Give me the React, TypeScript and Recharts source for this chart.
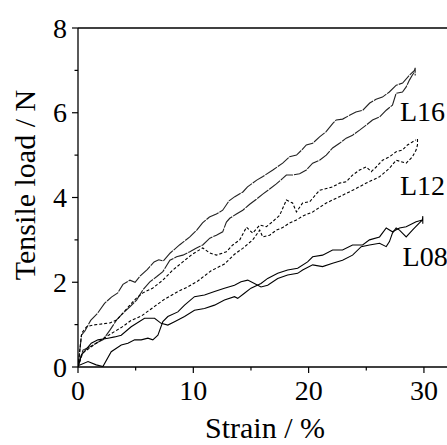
import { LineChart, Line, XAxis, YAxis, ReferenceLine, ReferenceDot } from "recharts";

// strain (%) / tensile load (N) pairs
const L16_UPPER: [number, number][] = [
  [0, 0], [0.3, 0.75], [0.6, 0.85], [1.1, 1.1], [1.7, 1.27], [2.3, 1.5], [2.9, 1.65], [3.45, 1.75],
  [3.9, 1.95], [4.5, 2.05], [4.95, 2.0], [5.4, 2.15], [6.0, 2.3], [6.6, 2.48], [7.0, 2.53], [7.4, 2.5],
  [8.0, 2.69], [8.8, 2.88], [9.7, 3.07], [10.3, 3.23], [10.8, 3.4], [11.4, 3.54], [12.0, 3.61],
  [12.55, 3.7], [13.1, 3.92], [13.6, 4.02], [14.3, 4.13], [14.7, 4.25], [15.5, 4.41], [16.0, 4.49],
  [16.9, 4.65], [17.75, 4.81], [18.35, 4.96], [18.95, 5.0], [19.4, 5.12], [19.8, 5.24], [20.35, 5.28],
  [20.95, 5.43], [21.5, 5.55], [22.1, 5.75], [22.4, 5.83], [22.95, 5.85], [23.55, 5.94], [24.1, 6.02],
  [24.7, 6.06], [25.3, 6.23], [25.85, 6.32], [26.4, 6.37], [27.0, 6.49], [27.6, 6.65], [28.15, 6.7],
  [28.75, 6.89], [29.18, 7.0], [29.24, 7.06], [29.24, 6.88],
];
const L16_LOWER: [number, number][] = [
  [0, 0], [0.43, 0.4], [1.04, 0.48], [1.62, 0.57], [2.16, 0.64], [2.77, 0.87], [3.35, 1.11], [3.9, 1.27],
  [4.5, 1.42], [5.08, 1.58], [5.63, 1.82], [6.23, 2.01], [6.81, 2.13], [7.36, 2.25], [7.97, 2.52],
  [8.55, 2.6], [9.09, 2.64], [9.7, 2.72], [10.28, 2.81], [10.82, 2.88], [11.43, 3.04], [12.0, 3.11],
  [12.55, 3.19], [12.87, 3.42], [13.16, 3.51], [13.74, 3.61], [14.29, 3.7], [14.89, 3.84], [15.47, 3.96],
  [16.02, 4.08], [16.62, 4.2], [17.2, 4.32], [17.75, 4.45], [18.07, 4.53], [18.61, 4.53], [19.22, 4.56],
  [19.8, 4.65], [20.35, 4.81], [20.95, 4.88], [21.53, 5.0], [22.08, 5.17], [22.68, 5.28], [23.26, 5.4],
  [23.81, 5.47], [24.42, 5.59], [25.0, 5.71], [25.54, 5.83], [26.15, 5.9], [26.73, 6.06], [27.27, 6.18],
  [27.59, 6.46], [28.14, 6.49], [28.46, 6.61], [28.74, 6.77], [29.0, 6.89], [29.18, 6.96],
];
const L12_UPPER: [number, number][] = [
  [0, 0], [0.32, 0.8], [0.75, 0.95], [1.3, 0.99], [1.9, 1.01], [2.77, 1.04], [3.35, 1.11], [3.9, 1.27],
  [4.5, 1.46], [5.08, 1.63], [5.63, 1.75], [6.47, 1.86], [7.36, 2.05], [8.23, 2.29], [9.09, 2.48],
  [9.96, 2.67], [10.82, 2.81], [11.43, 2.69], [12.0, 2.64], [12.87, 2.72], [13.42, 2.88], [14.03, 3.0],
  [14.61, 3.3], [15.15, 3.16], [15.76, 3.35], [16.34, 3.31], [16.88, 3.43], [17.49, 3.58], [18.07, 3.94],
  [18.61, 3.87], [18.94, 3.66], [19.48, 3.87], [20.09, 3.9], [20.95, 4.17], [22.08, 4.25], [22.68, 4.34],
  [23.26, 4.37], [23.81, 4.53], [24.42, 4.65], [25.0, 4.72], [25.43, 4.61], [25.86, 4.72], [26.41, 4.88],
  [27.01, 4.96], [27.59, 5.08], [28.14, 5.12], [28.57, 5.24], [29.0, 5.31], [29.3, 5.36],
];
const L12_LOWER: [number, number][] = [
  [0, 0], [0.41, 0.33], [1.27, 0.5], [2.14, 0.66], [2.88, 0.79], [3.75, 0.93], [4.61, 1.1], [5.48, 1.2],
  [6.64, 1.43], [7.5, 1.6], [8.66, 1.78], [9.52, 1.89], [10.39, 2.03], [11.54, 2.27], [12.7, 2.43],
  [13.57, 2.66], [14.29, 2.8], [15.15, 3.0], [15.76, 3.23], [16.02, 3.07], [16.62, 3.11], [17.2, 3.23],
  [17.75, 3.29], [18.35, 3.4], [18.94, 3.47], [19.48, 3.56], [20.35, 3.66], [21.53, 3.87], [22.68, 4.02],
  [23.81, 4.17], [25.0, 4.34], [26.15, 4.49], [27.01, 4.69], [27.59, 4.88], [28.46, 4.81], [29.0, 4.96],
  [29.32, 5.12], [29.44, 5.24], [29.44, 5.38],
];
const L08_A: [number, number][] = [
  [0, 0], [0.29, 0.28], [1.15, 0.56], [1.73, 0.64], [2.6, 0.68], [3.18, 0.71], [3.75, 0.75], [4.61, 0.95],
  [5.77, 1.15], [6.64, 1.15], [7.21, 1.03], [7.79, 0.99], [8.37, 1.07], [9.24, 1.19], [10.1, 1.34],
  [10.97, 1.38], [11.84, 1.46], [12.7, 1.58], [13.57, 1.66], [13.85, 1.62], [14.43, 1.74], [15.0, 1.86],
  [15.87, 1.97], [16.45, 2.09], [17.32, 2.21], [18.18, 2.29], [19.05, 2.33], [19.91, 2.48], [20.35, 2.6],
  [21.21, 2.64], [22.08, 2.76], [22.94, 2.76], [23.81, 2.88], [24.68, 2.88], [25.28, 3.0], [26.15, 3.07],
  [26.73, 3.28], [27.27, 3.19], [27.88, 3.28], [28.46, 3.31], [29.32, 3.43], [29.87, 3.47],
];
const L08_B: [number, number][] = [
  [0, 0.03], [0.87, 0.13], [1.58, 0.05], [2.16, 0.01], [2.88, 0.36], [3.75, 0.52], [4.33, 0.56],
  [4.91, 0.64], [5.48, 0.64], [6.06, 0.68], [6.49, 0.64], [6.93, 0.75], [7.36, 1.07], [7.79, 1.19],
  [8.66, 1.3], [9.24, 1.46], [10.1, 1.66], [10.97, 1.7], [11.84, 1.78], [12.7, 1.86], [13.57, 1.93],
  [14.14, 2.01], [14.72, 2.05], [15.3, 1.97], [15.87, 1.89], [16.45, 1.93], [17.32, 2.09], [18.18, 2.17],
  [19.05, 2.21], [19.48, 2.29], [20.35, 2.41], [21.21, 2.37], [22.08, 2.45], [22.94, 2.52], [23.81, 2.64],
  [24.56, 2.84], [25.28, 2.88], [26.15, 2.92], [26.73, 2.84], [27.01, 2.96], [27.27, 3.16], [27.59, 3.28],
  [27.88, 3.23], [28.46, 3.07], [29.0, 3.23], [29.61, 3.4], [29.87, 3.47], [29.9, 3.56], [29.9, 3.38],
];

const STRAIN_TICKS = [0, 5, 10, 15, 20, 25, 30];
const LOAD_TICKS = [0, 1, 2, 3, 4, 5, 6, 7, 8];
const SERIES_NAMES = ["L16", "L12", "L08"];

const FONT = '"Liberation Serif", "Times New Roman", serif';

const toPoints = (pairs: [number, number][]) => pairs.map(([x, y]) => ({ x, y }));

const SERIES = [
  { key: "l16a", data: toPoints(L16_UPPER), stroke: "#222", dash: "14 1" },
  { key: "l16b", data: toPoints(L16_LOWER), stroke: "#222", dash: "14 1" },
  { key: "l12a", data: toPoints(L12_UPPER), stroke: "#000", dash: "3 2" },
  { key: "l12b", data: toPoints(L12_LOWER), stroke: "#000", dash: "3 2" },
  { key: "l08a", data: toPoints(L08_A), stroke: "#000", dash: undefined },
  { key: "l08b", data: toPoints(L08_B), stroke: "#000", dash: undefined },
];

// where the series names sit (strain, load)
const NAME_POS = [
  [29.88, 6.04],
  [29.88, 4.29],
  [30.1, 2.62],
];

function StrainTick(props: any) {
  const { x, y, payload } = props;
  const major = payload.value % 10 === 0;
  return (
    <g>
      <line x1={x} x2={x} y1={y} y2={y + (major ? 6 : 3.5)} stroke="#000" strokeWidth={1.2} />
      {major && (
        <text x={x} y={y + 33} textAnchor="middle" fontSize={28} fill="#000" fontFamily={FONT}>
          {payload.value}
        </text>
      )}
    </g>
  );
}

function LoadTick(props: any) {
  const { x, y, payload } = props;
  const major = payload.value % 2 === 0;
  return (
    <g>
      <line x1={x - (major ? 6 : 3.5)} x2={x} y1={y} y2={y} stroke="#000" strokeWidth={1.2} />
      {major && (
        <text x={x - 11} y={y + 9.5} textAnchor="end" fontSize={28} fill="#000" fontFamily={FONT}>
          {payload.value}
        </text>
      )}
    </g>
  );
}

function LoadTitle() {
  const cx = 35;
  const cy = 185;
  return (
    <text x={cx} y={cy} transform={`rotate(-90 ${cx} ${cy})`} textAnchor="middle" fontSize={30} fill="#000" fontFamily={FONT}>
      Tensile load / N
    </text>
  );
}

function StrainTitle() {
  return (
    <text x={265} y={438} textAnchor="middle" fontSize={30} fill="#000" fontFamily={FONT}>
      Strain / %
    </text>
  );
}

export default function App() {
  return (
    <div style={{ position: "absolute", left: 0, top: 0, background: "#fff" }}>
      <LineChart width={447} height={445} margin={{ top: 28, right: 0, bottom: 0, left: 0 }} style={{ fontFamily: FONT }}>
        <XAxis
          type="number"
          dataKey="x"
          domain={[0, 32]}
          ticks={STRAIN_TICKS}
          interval={0}
          height={78}
          tickSize={0}
          tickMargin={0}
          tickLine={false}
          tick={<StrainTick />}
          axisLine={{ stroke: "#000", strokeWidth: 1.3 }}
          allowDataOverflow
          label={<StrainTitle />}
        />
        <YAxis
          type="number"
          dataKey="y"
          domain={[0, 8]}
          ticks={LOAD_TICKS}
          interval={0}
          width={78}
          tickSize={0}
          tickMargin={0}
          tickLine={false}
          tick={<LoadTick />}
          axisLine={{ stroke: "#000", strokeWidth: 1.3 }}
          allowDataOverflow
          label={<LoadTitle />}
        />
        <ReferenceLine y={8} stroke="#000" strokeWidth={1.3} />
        {SERIES.map((s) => (
          <Line
            key={s.key}
            data={s.data}
            dataKey="y"
            type="linear"
            stroke={s.stroke}
            strokeWidth={1.1}
            strokeDasharray={s.dash}
            dot={false}
            activeDot={false}
            isAnimationActive={false}
          />
        ))}
        {SERIES_NAMES.map((name, i) => (
          <ReferenceDot
            key={name}
            x={NAME_POS[i][0]}
            y={NAME_POS[i][1]}
            r={0}
            fill="none"
            stroke="none"
            ifOverflow="visible"
            label={{ value: name, position: "center", fontSize: 28, fill: "#000", fontFamily: FONT }}
          />
        ))}
      </LineChart>
    </div>
  );
}
